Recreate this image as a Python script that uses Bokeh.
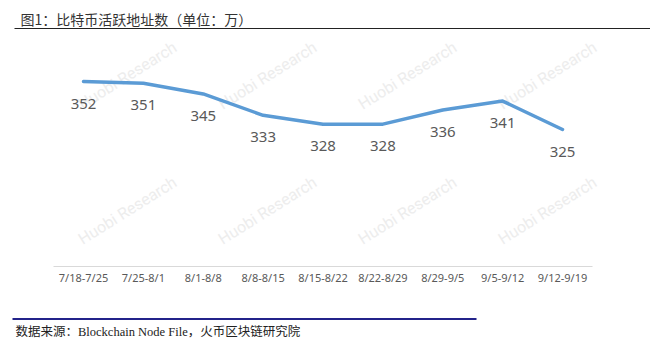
import math
from bokeh.plotting import figure
from bokeh.models import Range1d, LinearAxis, FixedTicker, Label, BoxAnnotation, ColumnDataSource
from bokeh.core.properties import value
from bokeh.embed import file_html
from bokeh.resources import INLINE

# ---- data ----
weeks = ["7/18-7/25", "7/25-8/1", "8/1-8/8", "8/8-8/15", "8/15-8/22",
         "8/22-8/29", "8/29-9/5", "9/5-9/12", "9/12-9/19"]
active = [352, 351, 345, 333, 328, 328, 336, 341, 325]
title_text = "图1：比特币活跃地址数（单位：万）"
source_text = "数据来源：Blockchain Node File，火币区块链研究院"
watermark_text = "Huobi Research"

W, H = 650, 353
# pixel layout helpers (frame covers whole canvas)
X0_PX, DX_PX = 83.0, 59.875          # first category centre, spacing
Y_REF_V, Y_REF_PX, PX_PER_V = 352.0, 81.0, 1.778

x_start = -X0_PX / DX_PX
x_end = (W - X0_PX) / DX_PX
y_end = Y_REF_V + Y_REF_PX / PX_PER_V
y_start = Y_REF_V - (H - Y_REF_PX) / PX_PER_V

def dx(px):
    return x_start + px / DX_PX

def dy(py):
    return y_end - py / PX_PER_V

p = figure(width=W, height=H, output_backend="svg", toolbar_location=None,
           x_range=Range1d(x_start, x_end), y_range=Range1d(y_start, y_end),
           x_axis_location=None, y_axis_location=None, min_border=0,
           outline_line_color=None, background_fill_color="white",
           border_fill_color="white")
p.xgrid.visible = False
p.ygrid.visible = False

# faint watermarks (background decoration)
for wy in (75, 210):
    for wx in (127, 267, 407, 547):
        p.add_layout(Label(x=dx(wx), y=dy(wy), text=watermark_text,
                           text_align="center", text_baseline="middle",
                           angle=0.56, text_font="Roboto", text_font_size="16px",
                           text_color="#EDEDED", level="underlay"))

idx = list(range(len(weeks)))
src = ColumnDataSource(dict(x=idx, y=active, lab=[str(v) for v in active]))

p.line("x", "y", source=src, line_color="#5B9BD5", line_width=3.5,
       line_join="round", line_cap="round")
p.text("x", "y", text="lab", source=src, y_offset=22,
       text_align="center", text_baseline="middle",
       text_font=value("Noto Sans"), text_font_size="15px", text_color="#595959")

# category axis placed inside frame
xaxis = LinearAxis(fixed_location=dy(265.5),
                   ticker=FixedTicker(ticks=idx),
                   major_label_overrides={i: w for i, w in enumerate(weeks)},
                   bounds=(-0.5, len(weeks) - 0.5))
xaxis.axis_line_color = "#D9D9D9"
xaxis.axis_line_width = 1
xaxis.major_tick_line_color = None
xaxis.major_tick_out = 0
xaxis.major_tick_in = 0
xaxis.minor_tick_line_color = None
xaxis.major_label_text_font = "Noto Sans"
xaxis.major_label_text_font_size = "11px"
xaxis.major_label_text_color = "#595959"
xaxis.major_label_standoff = 4
p.add_layout(xaxis, "below")

# title and rule
p.add_layout(Label(x=dx(20), y=dy(18), text=title_text, text_baseline="middle",
                   text_font="Noto Sans CJK SC", text_font_size="14px",
                   text_color="#333333"))
p.add_layout(BoxAnnotation(left=dx(14), right=dx(650), top=dy(27.5), bottom=dy(28.5),
                           fill_color="#222222", fill_alpha=1, line_alpha=0))

# source and rule
p.add_layout(BoxAnnotation(left=dx(12), right=dx(476), top=dy(317.5), bottom=dy(319.5),
                           fill_color="#23238A", fill_alpha=1, line_alpha=0))
p.add_layout(Label(x=dx(15), y=dy(331), text=source_text, text_baseline="middle",
                   text_font="Liberation Serif, Noto Sans CJK SC", text_font_size="12.5px",
                   text_color="#222222"))

open("out.html", "w").write(file_html(p, INLINE))
